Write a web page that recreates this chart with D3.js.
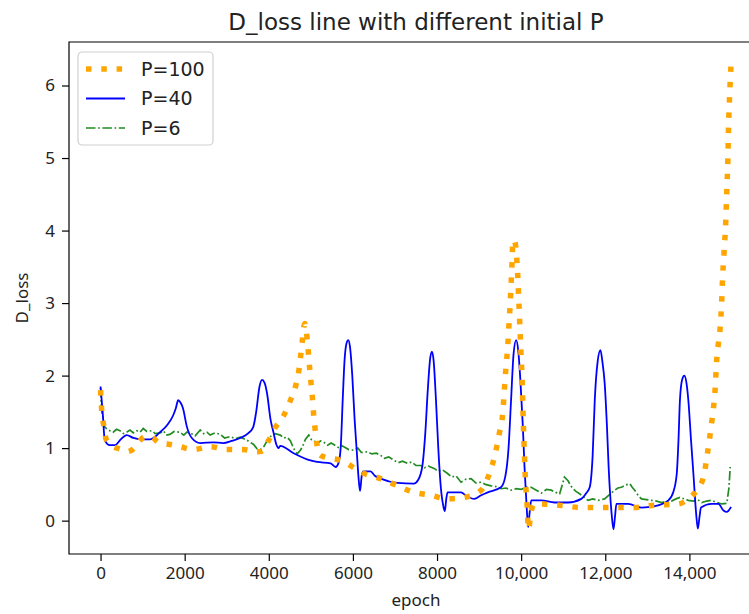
<!DOCTYPE html>
<html>
<head>
<meta charset="utf-8">
<script src="https://cdn.jsdelivr.net/npm/d3@7"></script>
<style>
  body { margin: 0; background: #fff; }
  text { font-family: "DejaVu Sans", sans-serif; fill: #222; }
</style>
</head>
<body>
<svg id="chart" width="749" height="614"></svg>
<script>
// epochs and D_loss values
var lossP100 = [[0,1.8],[30,1.5],[80,1.3],[130,1.13],[260,1.04],[500,0.98],[620,0.95],[780,0.99],[900,1.08],[1060,1.16],[1220,1.15],[1375,1.08],[1650,1.05],[1890,1.02],[2210,0.98],[2600,1.02],[3000,0.98],[3400,0.98],[3720,0.95],[3840,0.96],[4000,1.11],[4160,1.29],[4355,1.45],[4515,1.66],[4635,1.85],[4710,2.05],[4755,2.26],[4795,2.47],[4830,2.67],[4860,2.72],[4915,2.49],[4975,2.08],[5010,1.86],[5045,1.64],[5070,1.43],[5110,1.22],[5190,0.92],[5310,0.88],[5710,0.83],[6265,0.65],[6660,0.58],[7140,0.46],[7455,0.39],[7855,0.35],[8250,0.30],[8650,0.32],[9050,0.42],[9245,0.65],[9365,0.88],[9480,1.2],[9565,1.5],[9600,1.8],[9640,2.12],[9680,2.4],[9710,2.7],[9740,3.0],[9760,3.25],[9780,3.5],[9800,3.82],[9830,3.87],[9880,3.74],[9905,3.52],[9925,3.31],[9940,3.09],[9955,2.89],[9970,2.67],[9985,2.46],[10000,2.24],[10020,2.0],[10040,1.57],[10065,1.11],[10095,0.65],[10145,0.18],[10175,-0.12],[10230,0.1],[10315,0.23],[10955,0.21],[11430,0.18],[11910,0.18],[12700,0.18],[13100,0.21],[13740,0.23],[13975,0.30],[14175,0.42],[14335,0.60],[14435,0.95],[14515,1.29],[14575,1.57],[14610,1.8],[14650,2.22],[14690,2.45],[14730,2.65],[14770,3.05],[14785,3.29],[14825,3.71],[14865,4.13],[14890,4.56],[14915,4.99],[14930,5.41],[14955,5.84],[14990,6.3]];

var lossP40 = [[0,1.85],[50,1.5],[100,1.11],[220,1.04],[340,1.04],[480,1.12],[620,1.18],[780,1.14],[940,1.12],[1175,1.12],[1415,1.22],[1600,1.33],[1725,1.45],[1790,1.55],[1845,1.66],[1900,1.63],[1960,1.55],[2050,1.3],[2170,1.14],[2370,1.07],[2680,1.08],[2915,1.07],[3120,1.10],[3320,1.14],[3500,1.2],[3630,1.29],[3700,1.5],[3780,1.85],[3840,1.94],[3900,1.9],[3960,1.75],[4040,1.4],[4110,1.22],[4180,1.05],[4230,1.0],[4270,1.03],[4590,0.93],[4990,0.83],[5150,0.81],[5470,0.79],[5590,0.74],[5660,0.8],[5710,1.01],[5760,1.7],[5800,2.2],[5850,2.45],[5890,2.49],[5930,2.4],[5985,2.0],[6040,1.4],[6090,0.97],[6140,0.55],[6170,0.41],[6210,0.62],[6250,0.68],[6420,0.68],[6520,0.62],[6660,0.58],[7060,0.52],[7450,0.51],[7550,0.56],[7650,0.75],[7720,1.2],[7780,1.8],[7840,2.25],[7880,2.33],[7920,2.2],[7975,1.66],[8030,1.0],[8090,0.46],[8150,0.2],[8185,0.13],[8220,0.3],[8250,0.39],[8570,0.39],[8700,0.34],[8885,0.30],[9050,0.35],[9205,0.39],[9520,0.46],[9620,0.6],[9700,1.0],[9760,1.66],[9820,2.3],[9880,2.49],[9930,2.35],[9985,1.9],[10040,1.3],[10080,0.74],[10130,0.2],[10165,-0.09],[10200,0.1],[10240,0.28],[10480,0.28],[10795,0.25],[11115,0.25],[11430,0.30],[11550,0.38],[11630,0.46],[11700,0.9],[11750,1.66],[11820,2.2],[11885,2.35],[11930,2.2],[11985,1.9],[12040,1.3],[12080,0.74],[12150,0.1],[12195,-0.12],[12230,0.05],[12265,0.23],[12545,0.23],[12860,0.18],[13180,0.2],[13500,0.28],[13620,0.4],[13700,0.65],[13740,1.1],[13775,1.66],[13830,1.95],[13880,2.0],[13930,1.9],[13975,1.66],[14040,1.1],[14095,0.65],[14160,0.1],[14200,-0.11],[14240,0.05],[14275,0.18],[14530,0.23],[14690,0.23],[14810,0.14],[14890,0.12],[14990,0.19]];

var lossP6 = [[0,1.83],[25,1.52],[100,1.29],[180,1.25],[300,1.22],[380,1.26],[460,1.24],[540,1.2],[620,1.22],[700,1.25],[780,1.21],[860,1.24],[940,1.22],[1015,1.27],[1100,1.23],[1215,1.24],[1300,1.2],[1415,1.21],[1500,1.24],[1560,1.18],[1650,1.19],[1750,1.23],[1890,1.22],[1980,1.18],[2050,1.22],[2130,1.21],[2250,1.17],[2370,1.25],[2450,1.2],[2530,1.22],[2605,1.18],[2720,1.21],[2845,1.19],[2950,1.14],[3085,1.16],[3200,1.13],[3320,1.15],[3450,1.12],[3560,1.08],[3640,1.05],[3720,0.99],[3800,0.98],[3880,1.02],[3960,1.1],[4040,1.16],[4150,1.2],[4275,1.18],[4350,1.14],[4435,1.15],[4515,1.1],[4595,0.99],[4675,0.92],[4750,0.97],[4800,1.02],[4870,1.12],[4950,1.18],[5010,1.12],[5070,1.11],[5150,1.06],[5230,1.1],[5310,1.08],[5400,1.04],[5480,1.07],[5545,1.05],[5650,1.01],[5700,1.04],[5785,1.02],[5900,0.98],[6025,0.97],[6120,1.0],[6200,0.94],[6345,0.95],[6450,0.92],[6560,0.93],[6660,0.90],[6750,0.86],[6850,0.88],[6980,0.83],[7080,0.8],[7180,0.82],[7300,0.79],[7400,0.81],[7500,0.76],[7615,0.76],[7700,0.73],[7800,0.75],[7930,0.72],[8030,0.68],[8130,0.7],[8250,0.65],[8350,0.6],[8450,0.62],[8570,0.53],[8680,0.57],[8810,0.58],[8920,0.52],[9050,0.53],[9150,0.5],[9285,0.48],[9400,0.47],[9525,0.44],[9640,0.45],[9765,0.42],[9880,0.44],[10000,0.43],[10120,0.46],[10240,0.46],[10360,0.42],[10480,0.38],[10600,0.43],[10715,0.42],[10820,0.39],[10915,0.37],[10980,0.5],[11030,0.60],[11115,0.55],[11180,0.48],[11235,0.44],[11310,0.4],[11390,0.37],[11500,0.32],[11590,0.28],[11700,0.3],[11830,0.28],[11985,0.30],[12100,0.36],[12225,0.42],[12300,0.45],[12385,0.46],[12480,0.49],[12585,0.51],[12640,0.46],[12700,0.42],[12780,0.35],[12860,0.30],[12980,0.29],[13100,0.28],[13220,0.27],[13340,0.25],[13460,0.27],[13575,0.27],[13680,0.3],[13775,0.32],[13880,0.3],[13975,0.28],[14100,0.27],[14200,0.29],[14295,0.25],[14410,0.27],[14530,0.28],[14650,0.25],[14770,0.23],[14890,0.24],[14940,0.45],[14970,0.74]];

var xTicks = [0, 2000, 4000, 6000, 8000, 10000, 12000, 14000];
var xTickLabels = ["0", "2000", "4000", "6000", "8000", "10,000", "12,000", "14,000"];
var yTicks = [0, 1, 2, 3, 4, 5, 6];
var seriesNames = ["P=100", "P=40", "P=6"];

var svg = d3.select("#chart"),
  margin = { top: 42, left: 69, bottom: 554, right: 763 };

var x = d3.scaleLinear().domain([-750, 15750]).range([margin.left, margin.right]);
var y = d3.scaleLinear().domain([-0.46, 6.6]).range([margin.bottom, margin.top]);

svg.append("rect").attr("width", 749).attr("height", 614).attr("fill", "#fff");

svg.append("defs").append("clipPath").attr("id", "plotArea")
  .append("rect")
  .attr("x", margin.left).attr("y", margin.top)
  .attr("width", margin.right - margin.left).attr("height", margin.bottom - margin.top);

// axes
var tickFont = "'Noto Sans', sans-serif";
var xAxis = svg.append("g")
  .attr("transform", "translate(0," + margin.bottom + ")")
  .call(d3.axisBottom(x).tickValues(xTicks).tickSize(7).tickPadding(6)
    .tickFormat(function(d, i) { return xTickLabels[i]; }));
var yAxis = svg.append("g")
  .attr("transform", "translate(" + margin.left + ",0)")
  .call(d3.axisLeft(y).tickValues(yTicks).tickSize(7).tickPadding(7).tickFormat(d3.format("d")));

[xAxis, yAxis].forEach(function(a) {
  a.select(".domain").remove();
  a.selectAll("line").attr("stroke", "#000").attr("stroke-width", 1.2);
  a.selectAll("text").style("font-family", tickFont).style("font-size", "17px").attr("fill", "#222");
});

// spines
svg.append("path")
  .attr("fill", "none").attr("stroke", "#000").attr("stroke-width", 1.2)
  .attr("d", "M" + margin.right + "," + margin.top + "H" + margin.left + "V" + margin.bottom + "H" + margin.right + "V" + margin.top);

var line = d3.line()
  .x(function(d) { return x(d[0]); })
  .y(function(d) { return y(d[1]); });

var plot = svg.append("g").attr("clip-path", "url(#plotArea)");

plot.append("path").datum(lossP6)
  .attr("fill", "none").attr("stroke", "#228b22").attr("stroke-width", 1.7)
  .attr("stroke-dasharray", "9.5,2.6,1.7,2.6")
  .attr("d", line.curve(d3.curveLinear));

plot.append("path").datum(lossP40)
  .attr("fill", "none").attr("stroke", "#0000ff").attr("stroke-width", 1.8)
  .attr("stroke-linejoin", "round")
  .attr("d", line.curve(d3.curveMonotoneX));

plot.append("path").datum(lossP100)
  .attr("fill", "none").attr("stroke", "#ffa500").attr("stroke-width", 5.5)
  .attr("stroke-dasharray", "5.5,9.8")
  .attr("d", line.curve(d3.curveMonotoneX));

// title and axis labels
svg.append("text").attr("x", (margin.left + margin.right) / 2).attr("y", 30).attr("text-anchor", "middle")
  .style("font-size", "23px").text("D_loss line with different initial P");
svg.append("text").attr("x", (margin.left + margin.right) / 2).attr("y", 606).attr("text-anchor", "middle")
  .style("font-family", tickFont).style("font-size", "17px").text("epoch");
svg.append("text").attr("transform", "translate(28,298) rotate(-90)").attr("text-anchor", "middle")
  .style("font-family", tickFont).style("font-size", "17px").text("D_loss");

// legend
var legend = svg.append("g").attr("transform", "translate(78,52)");
legend.append("rect").attr("width", 135).attr("height", 93).attr("rx", 4)
  .attr("fill", "#fff").attr("fill-opacity", 0.8).attr("stroke", "#d0d0d0").attr("stroke-width", 1.2);

var legendStyles = [
  { color: "#ffa500", width: 5.5, dash: "5.5,9.8" },
  { color: "#0000ff", width: 1.8, dash: null },
  { color: "#228b22", width: 1.7, dash: "9.5,2.6,1.7,2.6" }
];
seriesNames.forEach(function(name, i) {
  var ly = 17 + i * 29.5;
  legend.append("line").attr("x1", 8).attr("x2", 47).attr("y1", ly).attr("y2", ly)
    .attr("stroke", legendStyles[i].color).attr("stroke-width", legendStyles[i].width)
    .attr("stroke-dasharray", legendStyles[i].dash);
  legend.append("text").attr("x", 63).attr("y", ly).attr("dy", "0.36em")
    .style("font-size", "19px").text(name);
});
</script>
</body>
</html>
